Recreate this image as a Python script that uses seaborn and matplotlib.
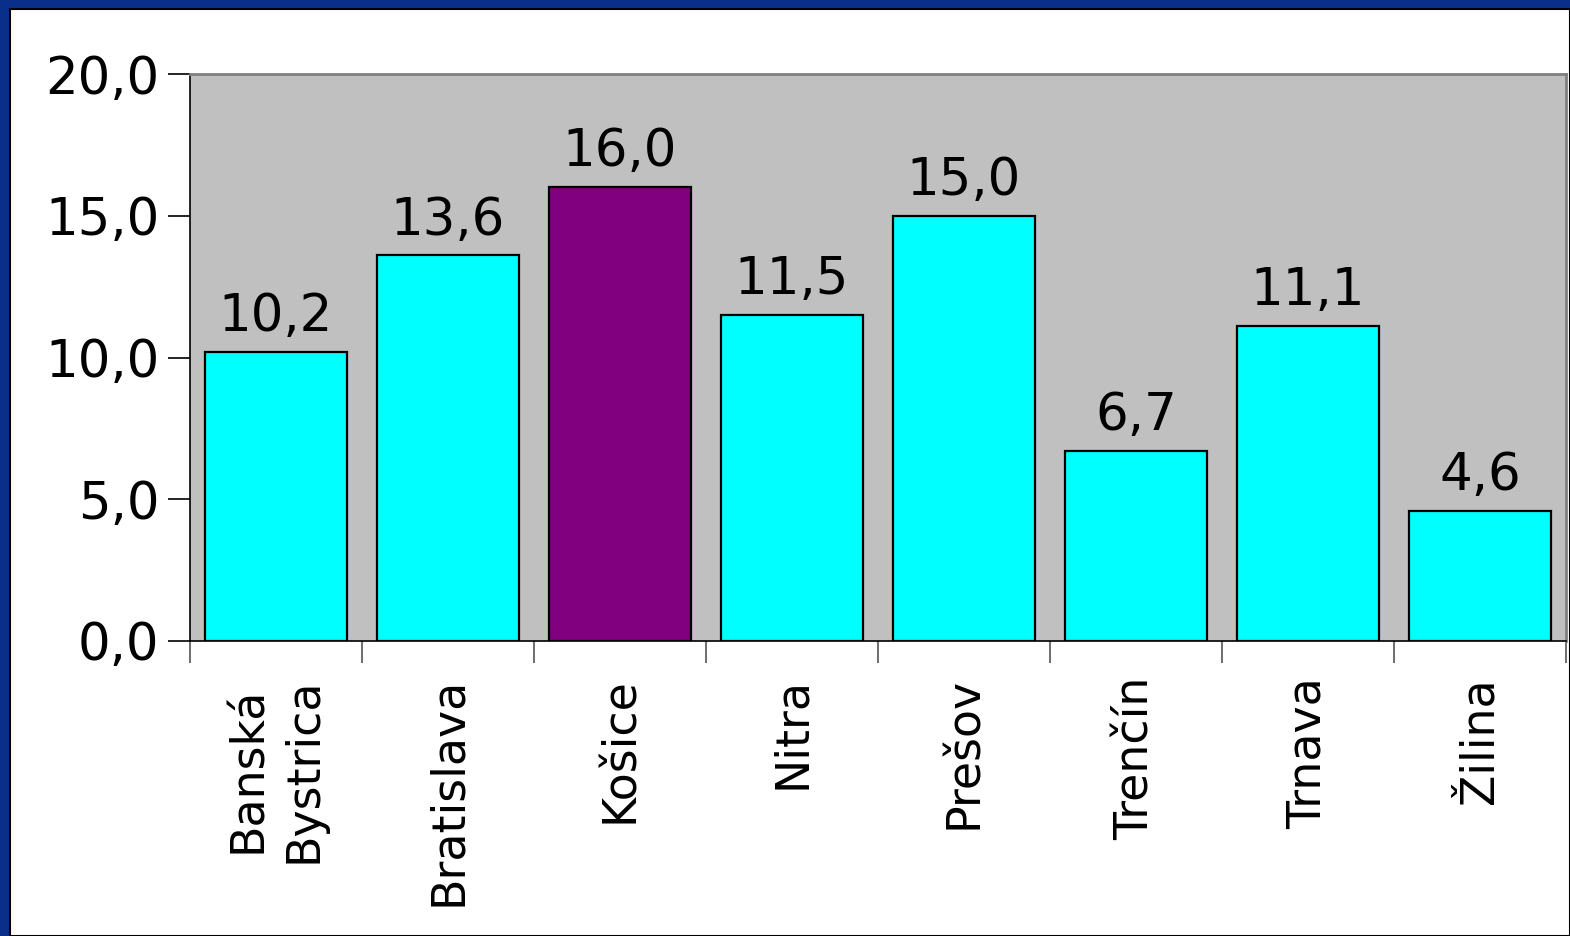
import matplotlib
matplotlib.use("Agg")
import matplotlib.pyplot as plt
import seaborn as sns
import pandas as pd
import numpy as np
from matplotlib.patches import Rectangle
from matplotlib.ticker import FixedLocator, FuncFormatter

regions = ["Banská\nBystrica", "Bratislava", "Košice", "Nitra", "Prešov", "Trenčín", "Trnava", "Žilina"]
values = [10.2, 13.6, 16.0, 11.5, 15.0, 6.7, 11.1, 4.6]
highlight = ["n", "n", "y", "n", "n", "n", "n", "n"]
yticks = [0, 5, 10, 15, 20]

df = pd.DataFrame({"region": regions, "value": values, "hl": highlight})

sns.set_style("white")
plt.rcParams['font.family'] = ['DejaVu Sans']
plt.rcParams['text.color'] = 'black'
plt.rcParams['xtick.labelcolor'] = 'black'
plt.rcParams['ytick.labelcolor'] = 'black'

fig = plt.figure(figsize=(15.70, 9.36), dpi=100)
fig.patch.set_facecolor("#0a2f8a")
# white slide area
fig.patches.append(Rectangle((10/1570, 0), 1 - 10/1570, 1 - 9/936, transform=fig.transFigure,
                             facecolor="white", edgecolor="black", linewidth=1.5, zorder=-10))

ax = fig.add_axes([190/1570, 1 - 641/936, 1376/1570, (641-74)/936])
ax.set_zorder(5)
ax.set_facecolor("#c0c0c0")

sns.barplot(data=df, x="region", y="value", hue="hl", palette={"n": "#00ffff", "y": "#800080"},
            dodge=False, legend=False, width=0.83, edgecolor="black", linewidth=1.6, ax=ax, saturation=1)

ax.set_xlim(-0.5, len(regions) - 0.5)
ax.set_ylim(0, 20)
ax.set_yticks(yticks)
ax.yaxis.set_major_formatter(FuncFormatter(lambda v, p: f"{v:.1f}".replace(".", ",")))
ax.tick_params(axis="y", labelsize=37, length=16, width=1.2, color="black", pad=6, left=True,
               labelcolor="black")

ax.set_xticks(range(len(regions)))
ax.set_xticklabels(regions, rotation=90, fontsize=33, va="top", ha="center", linespacing=1.3,
                   multialignment="center", color="black")
ax.tick_params(axis="x", which="major", length=0, pad=26)
ax.xaxis.set_minor_locator(FixedLocator(np.arange(-0.5, len(regions), 1)))
ax.tick_params(axis="x", which="minor", length=16, width=1.2, color="#555555", bottom=True)

for i, v in enumerate(values):
    ax.text(i, v + 0.35, f"{v:.1f}".replace(".", ","), ha="center", va="bottom", fontsize=37,
            color="black")

ax.set_xlabel("")
ax.set_ylabel("")
for s in ["top", "right"]:
    ax.spines[s].set_color("#808080")
    ax.spines[s].set_linewidth(2)
for s in ["left", "bottom"]:
    ax.spines[s].set_color("black")
    ax.spines[s].set_linewidth(1.2)

fig.savefig("out.png", dpi=100, facecolor=fig.get_facecolor())
